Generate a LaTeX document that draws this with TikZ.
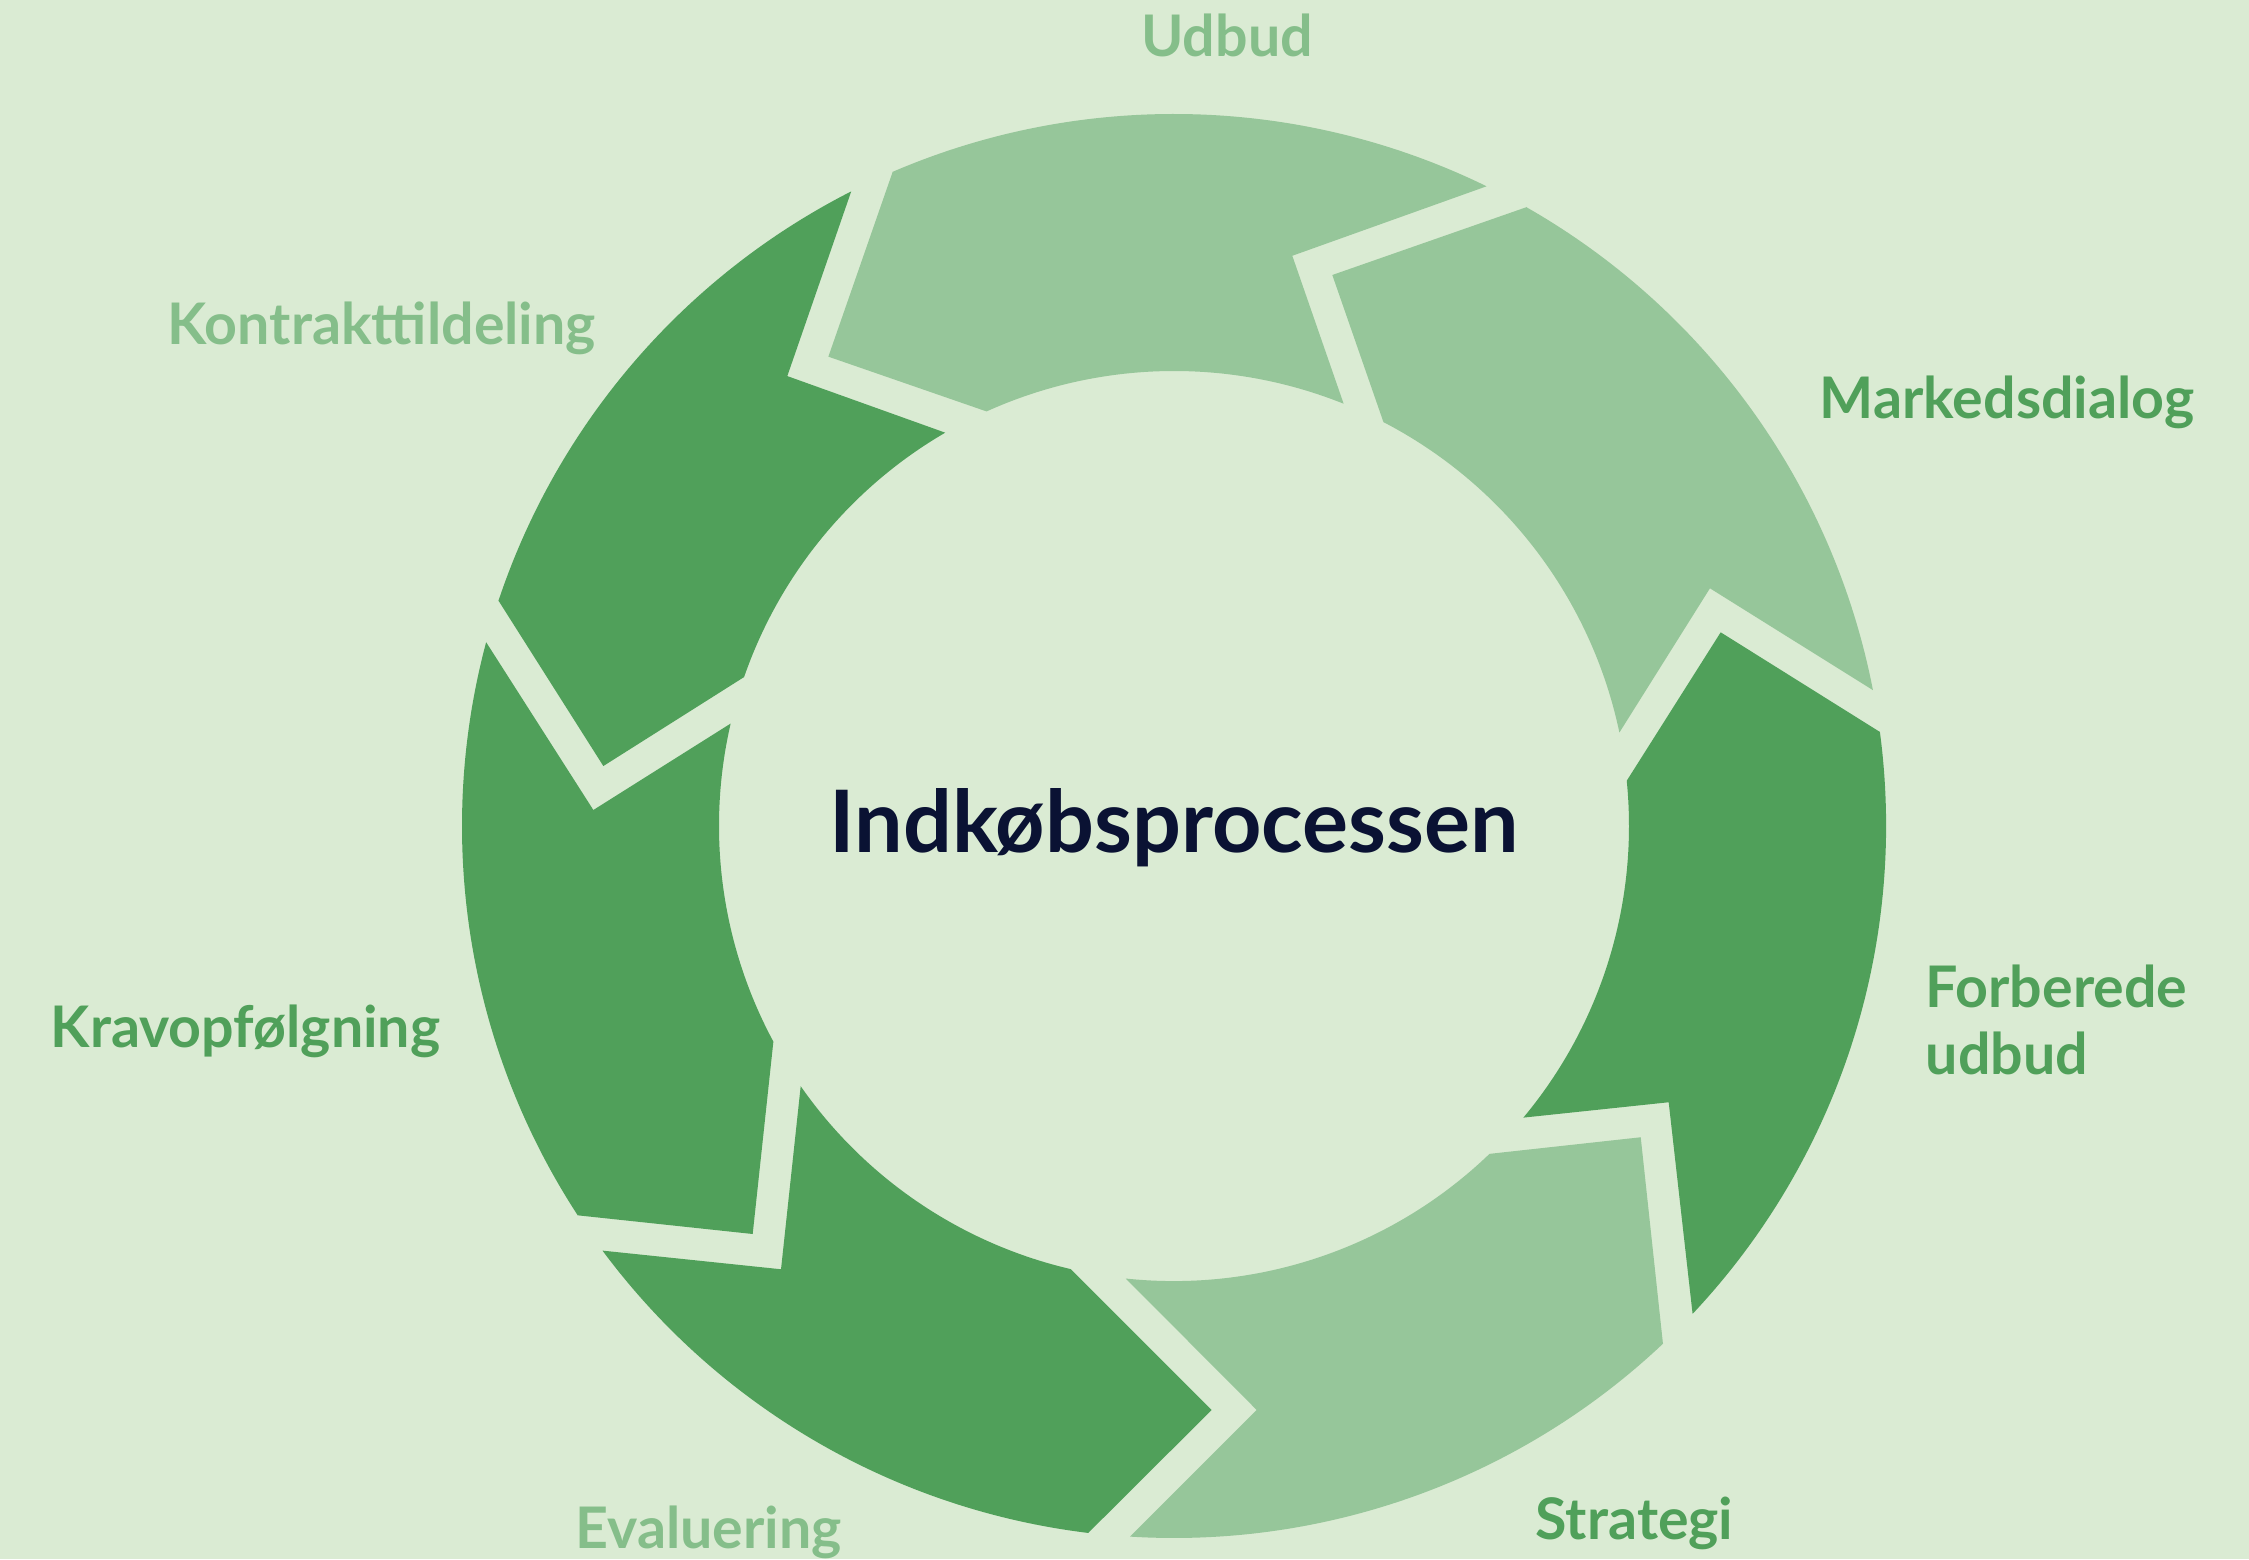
\documentclass[tikz,border=0pt]{standalone}
\usepackage{fontspec}
\setmainfont{Lato}
\definecolor{bgc}{HTML}{DAEBD3}
\definecolor{segL}{HTML}{96C69A}
\definecolor{segD}{HTML}{50A05A}
\definecolor{labL}{HTML}{85BE8A}
\definecolor{labD}{HTML}{50A05A}
\definecolor{navy}{HTML}{0A1233}
\begin{document}
\begin{tikzpicture}[x=0.01cm,y=0.01cm,
  lab/.style={font=\bfseries\fontsize{16.3}{19}\selectfont, inner sep=0pt, align=left},
  labl/.style={lab, text=labL},
  labd/.style={lab, text=labD}]
\fill[bgc] (0,0) rectangle (2249,1559);
\useasboundingbox (0,0) rectangle (2249,1559);
\begin{scope}[shift={(1174,733)}]
% Udbud
\fill[segL] (113.28:712) -- (126.37:582.9) -- (114.33:455) arc[start angle=114.33, end angle=68.14, radius=4.55cm] -- (78.28:582.4) -- (63.96:712) arc[start angle=63.96, end angle=113.28, radius=7.12cm] -- cycle;
% Markedsdialog
\fill[segL] (60.35:712) -- (73.97:573.3) -- (62.59:455) arc[start angle=62.59, end angle=11.88, radius=4.55cm] -- (23.92:586.3) -- (11.0:712) arc[start angle=11.0, end angle=60.35, radius=7.12cm] -- cycle;
% Forberede udbud
\fill[segD] (7.60:712) -- (19.51:580) -- (5.71:455) arc[start angle=5.71, end angle=-39.83, radius=4.55cm] -- (-29.18:566.6) -- (-43.25:712) arc[start angle=-43.25, end angle=7.60, radius=7.12cm] -- cycle;
% Strategi
\fill[segL] (-46.63:712) -- (-33.70:561) -- (-46.10:455) arc[start angle=-46.10, end angle=-96.06, radius=4.55cm] -- (-81.94:589.8) -- (-93.54:712) arc[start angle=-93.54, end angle=-46.63, radius=7.12cm] -- cycle;
% Evaluering
\fill[segD] (-96.91:712) -- (-86.31:585.2) -- (-103.13:455) arc[start angle=-103.13, end angle=-145.10, radius=4.55cm] -- (-131.56:592.4) -- (-143.39:712) arc[start angle=-143.39, end angle=-96.91, radius=7.12cm] -- cycle;
% Kravopfoelgning
\fill[segD] (-146.85:712) -- (-135.92:586.5) -- (-151.71:455) arc[start angle=-151.71, end angle=-192.99, radius=4.55cm] -- (-181.58:580.9) -- (-194.96:712) arc[start angle=-194.96, end angle=-146.85, radius=7.12cm] -- cycle;
% Kontrakttildeling
\fill[segD] (-198.44:712) -- (-186.0:573.8) -- (-199.11:455) arc[start angle=-199.11, end angle=-239.79, radius=4.55cm] -- (-229.32:593.3) -- (-243.04:712) arc[start angle=-243.04, end angle=-198.44, radius=7.12cm] -- cycle;
\end{scope}
\node[font=\bfseries\fontsize{24.5}{29}\selectfont, text=navy, inner sep=0pt] (title) at (1174,731) {Indkøbsprocessen};
\node[labl, anchor=base] (udbud) at (1227,1502) {Udbud};
\node[labd, anchor=base west] (marked) at (1819,1141) {Markedsdialog};
\node[labd, anchor=north west] (forb) at (1925,595) {Forberede\\udbud};
\node[labd, anchor=base west] (strat) at (1535,20) {Strategi};
\node[labl, anchor=base west] (eval) at (575,11) {Evaluering};
\node[labd, anchor=base west] (krav) at (50,512) {Kravopfølgning};
\node[labl, anchor=base west] (kontr) at (167,1215) {Kontrakttildeling};
\end{tikzpicture}
\end{document}
